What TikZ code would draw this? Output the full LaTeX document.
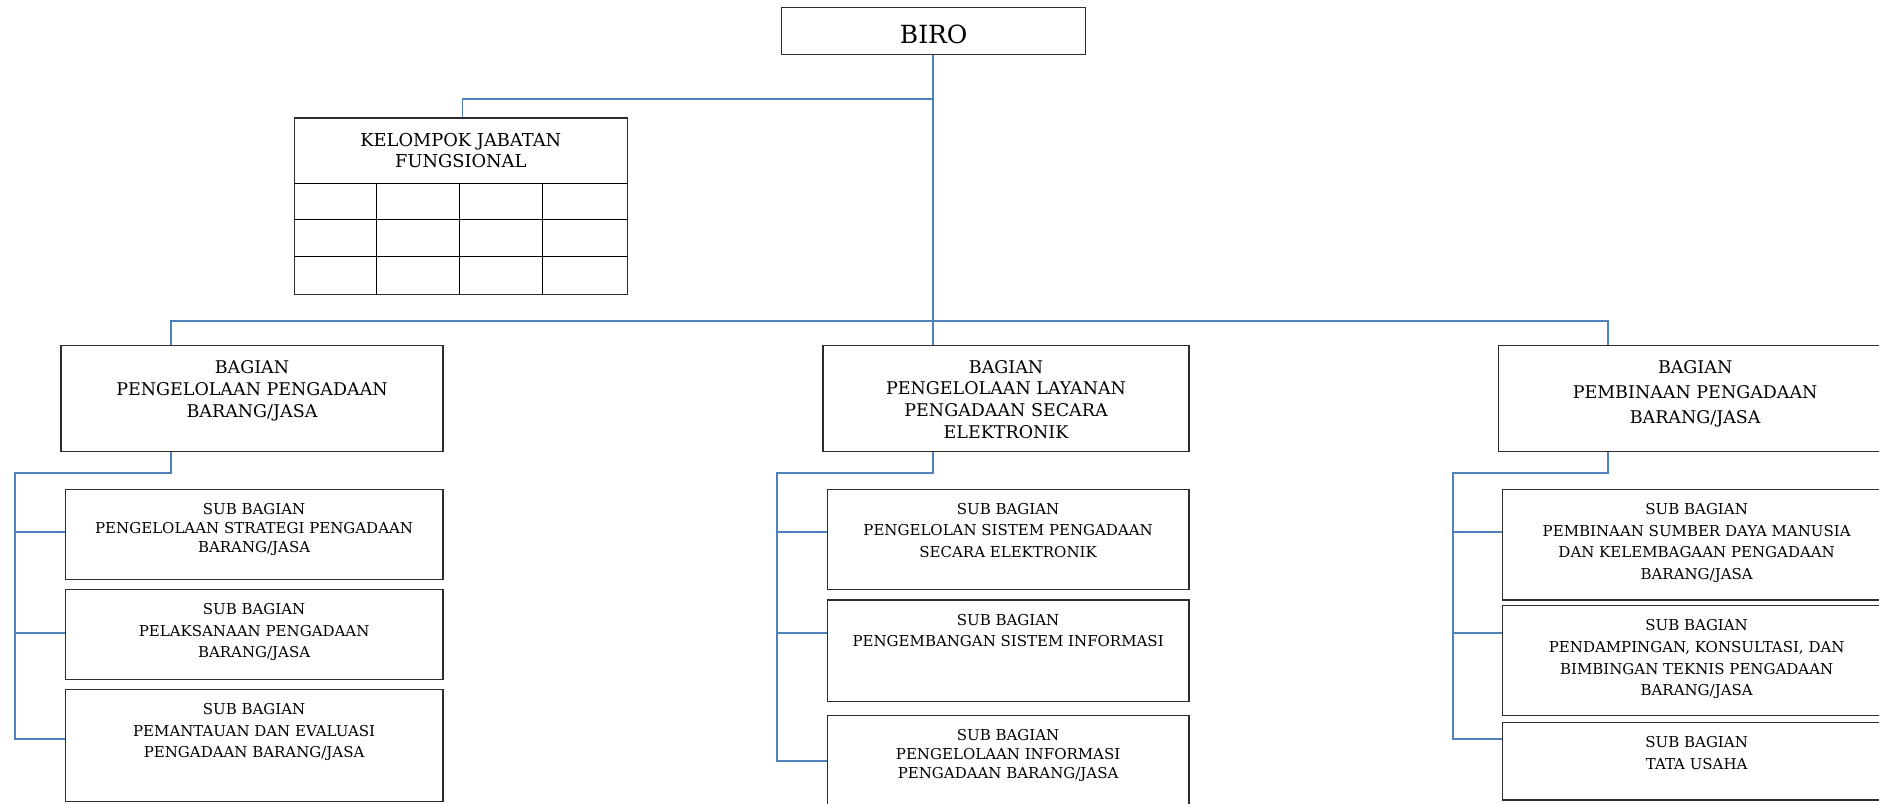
\documentclass[tikz,border=0pt]{standalone}
\usepackage{fontspec}
\setmainfont{DejaVu Serif}
\definecolor{connblue}{RGB}{79,129,189}
\definecolor{boxgray}{RGB}{45,45,45}
\tikzset{
  orgrect/.style={draw=boxgray, line width=1.3pt, inner sep=0pt, anchor=north west},
  conn/.style={draw=connblue, line width=1.7pt},
  gridline/.style={draw=black, line width=1.3pt},
  lbl/.style={anchor=north, align=center, inner sep=0pt, text=black}
}
\newcommand\orgbox[5]{%
  \pgfmathsetmacro\bw{#4-#2}\pgfmathsetmacro\bh{#5-#3}%
  \node[orgrect, minimum width=\bw pt, minimum height=\bh pt] (#1) at (#2,#3) {};}
\newcommand\boxtext[5]{%
  \node[lbl, font=\fontsize{#2}{#3}\selectfont] (#1-t) at ([yshift=-#4pt]#1.north) {#5};}
\begin{document}
\begin{tikzpicture}[x=1pt,y=-1pt]
\path[use as bounding box] (0,0) rectangle (1879,803);
\clip (0,0) rectangle (1879,803);

% boxes
\orgbox{biro}{781}{7}{1085}{54}
\orgbox{kjf}{293.6}{117.4}{626.7}{293.6}
\orgbox{bag1}{60.4}{344.7}{442.3}{450.7}
\orgbox{bag2}{822.4}{344.7}{1188.4}{450.7}
\orgbox{bag3}{1498}{344.7}{1891}{450.7}
\orgbox{sl1}{64.5}{488.7}{442.4}{578.7}
\orgbox{sl2}{64.5}{588.7}{442.4}{678.7}
\orgbox{sl3}{64.5}{688.7}{442.4}{801}
\orgbox{sm1}{826.5}{488.7}{1188.4}{588.7}
\orgbox{sm2}{826.5}{599.3}{1188.4}{700.7}
\orgbox{sm3}{826.5}{715}{1188.4}{815}
\orgbox{sr1}{1502}{489}{1890}{599.3}
\orgbox{sr2}{1502}{605}{1890}{715}
\orgbox{sr3}{1502}{721.7}{1890}{799.3}

% KJF grid
\coordinate (g0) at (0,183.3);
\coordinate (g1) at (0,219.5);
\coordinate (g2) at (0,256.7);
\coordinate (c1) at (376.3,0);
\coordinate (c2) at (459,0);
\coordinate (c3) at (542.8,0);
\draw[gridline] (kjf.west |- g0) -- (kjf.east |- g0);
\draw[gridline] (kjf.west |- g1) -- (kjf.east |- g1);
\draw[gridline] (kjf.west |- g2) -- (kjf.east |- g2);
\draw[gridline, line width=1pt] (c1 |- g0) -- (c1 |- kjf.south);
\draw[gridline, line width=1pt] (c2 |- g0) -- (c2 |- kjf.south);
\draw[gridline, line width=1pt] (c3 |- g0) -- (c3 |- kjf.south);

% texts
\boxtext{biro}{25}{30}{18}{BIRO}
\boxtext{kjf}{17.8}{21.7}{15.3}{KELOMPOK JABATAN\\FUNGSIONAL}
\boxtext{bag1}{17.5}{22}{15.3}{BAGIAN\\PENGELOLAAN PENGADAAN\\BARANG/JASA}
\boxtext{bag2}{17.5}{21.7}{15.3}{BAGIAN\\PENGELOLAAN LAYANAN\\PENGADAAN SECARA\\ELEKTRONIK}
\boxtext{bag3}{17.5}{25.3}{15.3}{BAGIAN\\PEMBINAAN PENGADAAN\\BARANG/JASA}
\boxtext{sl1}{15}{19}{14.6}{SUB BAGIAN\\PENGELOLAAN STRATEGI PENGADAAN\\BARANG/JASA}
\boxtext{sl2}{15}{21.5}{14.6}{SUB BAGIAN\\PELAKSANAAN PENGADAAN\\BARANG/JASA}
\boxtext{sl3}{15}{21.5}{14.6}{SUB BAGIAN\\PEMANTAUAN DAN EVALUASI\\PENGADAAN BARANG/JASA}
\boxtext{sm1}{15}{21.3}{14.6}{SUB BAGIAN\\PENGELOLAN SISTEM PENGADAAN\\SECARA ELEKTRONIK}
\boxtext{sm2}{15}{21}{15}{SUB BAGIAN\\PENGEMBANGAN SISTEM INFORMASI}
\boxtext{sm3}{15}{19}{14.3}{SUB BAGIAN\\PENGELOLAAN INFORMASI\\PENGADAAN BARANG/JASA}
\boxtext{sr1}{15}{21.5}{14.3}{SUB BAGIAN\\PEMBINAAN SUMBER DAYA MANUSIA\\DAN KELEMBAGAAN PENGADAAN\\BARANG/JASA}
\boxtext{sr2}{15}{21.7}{14.3}{SUB BAGIAN\\PENDAMPINGAN, KONSULTASI, DAN\\BIMBINGAN TEKNIS PENGADAAN\\BARANG/JASA}
\boxtext{sr3}{15}{21.7}{14.3}{SUB BAGIAN\\TATA USAHA}

% top connectors
\coordinate (trunk) at (933.3,0);
\coordinate (kjfbr) at (462.6,99.3);
\coordinate (busL) at (170.7,321);
\coordinate (busR) at (1608.2,321);
\draw[conn] (trunk |- biro.south) -- (trunk |- bag2.north);
\draw[conn] (trunk |- kjfbr) -- (kjfbr) -- (kjfbr |- kjf.north);
\draw[conn] (busL |- bag1.north) -- (busL) -- (busR) -- (busR |- bag3.north);

% left group
\coordinate (jl) at (14.7,472.7);
\coordinate (bl1) at (14.7,532.3);
\coordinate (bl2) at (14.7,632.7);
\coordinate (bl3) at (14.7,739);
\draw[conn] (busL |- bag1.south) -- (busL |- jl) -- (jl) -- (bl3) -- (bl3 -| sl3.west);
\draw[conn] (bl1) -- (bl1 -| sl1.west);
\draw[conn] (bl2) -- (bl2 -| sl2.west);

% middle group
\coordinate (jm) at (777,472.7);
\coordinate (bm1) at (777,532.3);
\coordinate (bm2) at (777,632.7);
\coordinate (bm3) at (777,761);
\draw[conn] (trunk |- bag2.south) -- (trunk |- jm) -- (jm) -- (bm3) -- (bm3 -| sm3.west);
\draw[conn] (bm1) -- (bm1 -| sm1.west);
\draw[conn] (bm2) -- (bm2 -| sm2.west);

% right group
\coordinate (jr) at (1452.7,473);
\coordinate (br1) at (1452.7,532.3);
\coordinate (br2) at (1452.7,632.7);
\coordinate (br3) at (1452.7,739);
\draw[conn] (busR |- bag3.south) -- (busR |- jr) -- (jr) -- (br3) -- (br3 -| sr3.west);
\draw[conn] (br1) -- (br1 -| sr1.west);
\draw[conn] (br2) -- (br2 -| sr2.west);
\end{tikzpicture}
\end{document}
